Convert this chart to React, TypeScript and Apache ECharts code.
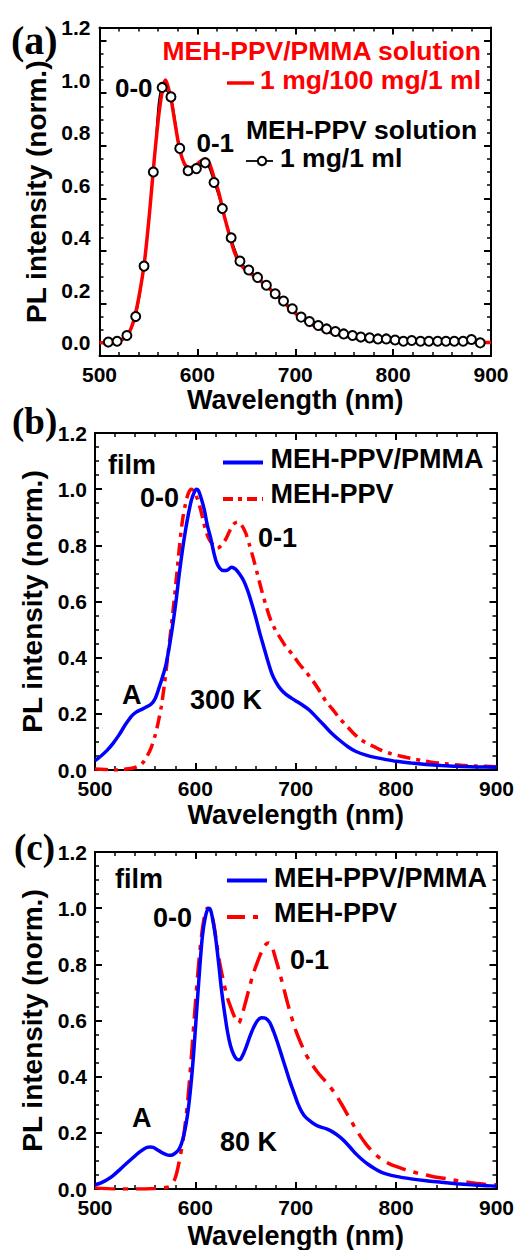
import React, { useEffect, useRef } from "react";
import * as echarts from "echarts";

// ---------------- data ----------------
// (a) MEH-PPV/PMMA solution (red solid)
const aPmmaX = [500, 510, 518, 525, 531, 536, 541, 546, 551, 556, 561, 565, 567.5, 570, 573, 577, 582, 587, 592, 598, 603, 608, 612, 617, 622, 627, 632, 637, 642, 648, 655, 662, 670, 680, 690, 700, 710, 720, 730, 740, 755, 770, 790, 810, 840, 870, 900];
const aPmmaY = [0.0, 0.002, 0.006, 0.016, 0.045, 0.10, 0.19, 0.31, 0.49, 0.70, 0.88, 0.975, 1.0, 0.975, 0.93, 0.84, 0.735, 0.68, 0.665, 0.675, 0.69, 0.70, 0.685, 0.63, 0.57, 0.49, 0.42, 0.355, 0.31, 0.282, 0.262, 0.243, 0.218, 0.185, 0.148, 0.112, 0.085, 0.063, 0.047, 0.035, 0.023, 0.015, 0.009, 0.005, 0.003, 0.002, 0.001];
// (a) MEH-PPV solution (black open circles)
const aSolX = [509, 518, 528, 537, 545.5, 555, 564, 573, 582, 590.5, 599, 608, 617, 625.5, 634.5, 643.5, 652.5, 661.5, 670.5, 679.5, 688, 697, 706, 714.5, 723.5, 732, 741, 749.5, 758.5, 767, 776, 784.5, 793, 802, 810.5, 819, 828, 836.5, 845.5, 854, 862.5, 871.5, 880, 889];
const aSolY = [0.003, 0.006, 0.028, 0.10, 0.292, 0.65, 0.972, 0.936, 0.74, 0.655, 0.663, 0.685, 0.61, 0.511, 0.40, 0.311, 0.277, 0.249, 0.219, 0.187, 0.159, 0.13, 0.098, 0.081, 0.066, 0.053, 0.043, 0.034, 0.028, 0.022, 0.019, 0.015, 0.015, 0.011, 0.006, 0.009, 0.006, 0.006, 0.006, 0.006, 0.006, 0.006, 0.013, 0.0];

// (b) film 300 K
const bPmmaX = [500, 506, 512, 518, 524, 530, 536, 541, 546, 551, 556, 560, 564, 568, 571, 575, 578, 581, 584, 587, 590, 593, 596, 599, 601, 603, 606, 609, 612, 615, 618, 621, 624, 628, 632, 636, 640, 644, 648, 652, 656, 660, 664, 668, 672, 676, 680, 685, 690, 696, 702, 708, 714, 720, 728, 736, 744, 752, 760, 770, 780, 790, 800, 815, 830, 845, 860, 880, 900];
const bPmmaY = [0.033, 0.05, 0.07, 0.095, 0.125, 0.16, 0.19, 0.206, 0.215, 0.224, 0.235, 0.255, 0.295, 0.34, 0.38, 0.46, 0.53, 0.61, 0.70, 0.78, 0.85, 0.91, 0.96, 0.99, 1.0, 0.995, 0.965, 0.925, 0.87, 0.83, 0.78, 0.74, 0.72, 0.71, 0.712, 0.722, 0.715, 0.698, 0.675, 0.64, 0.595, 0.545, 0.49, 0.44, 0.39, 0.345, 0.315, 0.288, 0.27, 0.255, 0.242, 0.228, 0.212, 0.19, 0.16, 0.13, 0.105, 0.083, 0.066, 0.053, 0.044, 0.037, 0.031, 0.025, 0.02, 0.016, 0.013, 0.011, 0.01];
const bNeatX = [500, 510, 520, 530, 538, 544, 548, 552, 556, 560, 563, 566, 569, 572, 575, 578, 581, 584, 587, 590, 593, 596, 599, 602, 605, 608, 611, 614, 618, 622, 626, 630, 634, 638, 642, 646, 650, 654, 658, 662, 666, 670, 675, 680, 685, 690, 697, 703, 710, 717, 724, 730, 737, 743, 750, 757, 764, 770, 778, 786, 795, 805, 815, 825, 835, 850, 865, 880, 900];
const bNeatY = [0.004, 0.002, 0.0, 0.003, 0.007, 0.015, 0.027, 0.05, 0.08, 0.125, 0.17, 0.225, 0.30, 0.39, 0.48, 0.575, 0.68, 0.79, 0.885, 0.945, 0.985, 1.0, 0.99, 0.965, 0.93, 0.885, 0.845, 0.82, 0.80, 0.79, 0.80, 0.82, 0.85, 0.875, 0.883, 0.872, 0.845, 0.80, 0.75, 0.695, 0.64, 0.59, 0.535, 0.497, 0.468, 0.44, 0.41, 0.38, 0.35, 0.318, 0.28, 0.245, 0.215, 0.187, 0.16, 0.133, 0.11, 0.097, 0.083, 0.069, 0.058, 0.049, 0.041, 0.034, 0.028, 0.022, 0.017, 0.014, 0.012];

// (c) film 80 K
const cPmmaX = [500, 506, 512, 518, 525, 531, 538, 543, 548, 552, 555, 558, 562, 566, 570, 574, 577, 580, 583, 586, 589, 592, 595, 598, 601, 604, 607, 610, 613, 615, 617, 620, 623, 626, 629, 632, 635, 638, 641, 644, 647, 650, 654, 658, 662, 666, 670, 674, 678, 682, 686, 690, 694, 698, 702, 706, 710, 715, 720, 725, 730, 735, 740, 745, 750, 755, 760, 766, 772, 778, 784, 790, 800, 815, 830, 845, 860, 875, 890, 900];
const cPmmaY = [0.015, 0.022, 0.033, 0.048, 0.07, 0.09, 0.112, 0.128, 0.141, 0.148, 0.15, 0.148, 0.14, 0.131, 0.124, 0.12, 0.121, 0.128, 0.138, 0.16, 0.2, 0.26, 0.35, 0.47, 0.62, 0.77, 0.9, 0.97, 1.0, 0.995, 0.965, 0.9, 0.81, 0.71, 0.63, 0.56, 0.51, 0.48, 0.463, 0.46, 0.475, 0.5, 0.54, 0.575, 0.6, 0.61, 0.608, 0.593, 0.56, 0.52, 0.475, 0.43, 0.385, 0.345, 0.305, 0.275, 0.255, 0.24, 0.228, 0.22, 0.215, 0.207, 0.196, 0.182, 0.165, 0.145, 0.125, 0.105, 0.088, 0.074, 0.062, 0.054, 0.045, 0.036, 0.029, 0.024, 0.019, 0.015, 0.012, 0.01];
const cNeatX = [500, 520, 540, 560, 570, 575, 580, 584, 588, 592, 596, 600, 604, 608, 612, 615, 618, 621, 624, 628, 632, 636, 640, 643, 646, 650, 654, 658, 662, 666, 670, 673, 676, 680, 684, 688, 692, 696, 700, 705, 710, 716, 722, 728, 734, 740, 746, 752, 758, 764, 770, 776, 782, 788, 795, 802, 810, 820, 830, 840, 850, 860, 870, 880, 890, 900];
const cNeatY = [0.004, 0.0, 0.0, 0.002, 0.005, 0.01, 0.04, 0.1, 0.18, 0.3, 0.47, 0.66, 0.83, 0.95, 1.0, 0.99, 0.95, 0.88, 0.81, 0.74, 0.68, 0.64, 0.605, 0.59, 0.615, 0.665, 0.72, 0.77, 0.81, 0.845, 0.87, 0.876, 0.865, 0.82, 0.77, 0.715, 0.66, 0.61, 0.565, 0.52, 0.48, 0.445, 0.415, 0.39, 0.365, 0.335, 0.3, 0.262, 0.225, 0.19, 0.16, 0.135, 0.115, 0.1, 0.087, 0.078, 0.068, 0.058, 0.05, 0.042, 0.037, 0.03, 0.025, 0.02, 0.016, 0.015];

const xRange = [500, 900];
const yMaxAll = 1.2;
const yMinA = -0.05;
const yMinBC = 0;

// ---------------- styles ----------------
const SANS = "'Liberation Sans', Arial, Helvetica, sans-serif";
const SERIF = "'Liberation Serif', 'Times New Roman', serif";
const RED = "#ff0000";
const BLUE = "#0000ff";
const BLACK = "#000000";

const zip = (xs: number[], ys: number[]) => xs.map((x, i) => [x, ys[i]]);

function xAxes(g: number, nameGap: number) {
  const base: any = {
    gridIndex: g,
    type: "value",
    min: xRange[0],
    max: xRange[1],
    interval: 100,
    axisLine: { show: true, onZero: false, lineStyle: { color: BLACK, width: 2 } },
    axisTick: { show: true, inside: true, length: 7, lineStyle: { color: BLACK, width: 2 } },
    minorTick: { show: true, splitNumber: 5, length: 4, lineStyle: { color: BLACK, width: 1.5 } },
    splitLine: { show: false },
    minorSplitLine: { show: false },
  };
  return [
    {
      ...base,
      position: "bottom",
      axisLabel: { show: true, fontSize: 21, fontWeight: "bold", color: BLACK, fontFamily: SANS, margin: 8, showMinLabel: true, showMaxLabel: true },
      name: "Wavelength (nm)",
      nameLocation: "middle",
      nameGap,
      nameTextStyle: { fontSize: 27, fontWeight: "bold", color: BLACK, fontFamily: SANS },
    },
    { ...base, position: "top", axisLabel: { show: false } },
  ];
}

const yFmt = (v: number) => {
  const r = Math.round(v * 100);
  return r >= 0 && r % 20 === 0 ? (r / 100).toFixed(1) : "";
};

function yAxes(g: number, min: number, nameGap: number, labelMargin: number) {
  const minor: any = {
    gridIndex: g,
    type: "value",
    min,
    max: yMaxAll,
    interval: 0.05,
    axisLine: { show: true, onZero: false, lineStyle: { color: BLACK, width: 2 } },
    axisTick: { show: true, inside: true, length: 4, lineStyle: { color: BLACK, width: 1.5 } },
    splitLine: { show: false },
  };
  const major: any = {
    gridIndex: g,
    type: "value",
    min,
    max: yMaxAll,
    interval: 0.2,
    axisLine: { show: false, onZero: false },
    axisTick: { show: true, inside: true, length: 7, lineStyle: { color: BLACK, width: 2 } },
    axisLabel: { show: false },
    splitLine: { show: false },
  };
  return [
    {
      ...minor,
      position: "left",
      axisLabel: { show: true, formatter: yFmt, fontSize: 21, fontWeight: "bold", color: BLACK, fontFamily: SANS, margin: labelMargin, showMinLabel: true, showMaxLabel: true },
      name: "PL intensity (norm.)",
      nameLocation: "middle",
      nameGap,
      nameTextStyle: { fontSize: 28, fontWeight: "bold", color: BLACK, fontFamily: SANS },
    },
    { ...major, position: "left" },
    { ...minor, position: "right", axisLabel: { show: false } },
    { ...major, position: "right" },
  ];
}

function txt(text: string, x: number, y: number, o: any = {}) {
  return {
    type: "text",
    x,
    y,
    z: 20,
    style: {
      text,
      fill: o.color || BLACK,
      fontSize: o.size || 27,
      fontWeight: "bold",
      fontFamily: o.family || SANS,
      align: o.align || "left",
      verticalAlign: "middle",
    },
  };
}

function seg(x1: number, x2: number, y: number, color: string, width: number, dash?: number[]) {
  return {
    type: "line",
    z: 20,
    shape: { x1, y1: y, x2, y2: y },
    style: { stroke: color, lineWidth: width, lineDash: dash || null },
  };
}

const DASH_B = [13, 6, 4, 6];
const DASH_C = [20, 8, 5, 8];

export default function App() {
  const ref = useRef<HTMLDivElement>(null);
  useEffect(() => {
    if (!ref.current) return;
    const chart = echarts.init(ref.current, undefined, { renderer: "svg" });
    const option: any = {
      animation: false,
      backgroundColor: "#ffffff",
      grid: [
        { left: 99.5, top: 27.5, width: 391.5, height: 328.5 },
        { left: 95, top: 433, width: 403, height: 337 },
        { left: 95, top: 852, width: 405, height: 337.5 },
      ],
      xAxis: [...xAxes(0, 30), ...xAxes(1, 31), ...xAxes(2, 33)],
      yAxis: [...yAxes(0, yMinA, 38, 9), ...yAxes(1, yMinBC, 40, 8), ...yAxes(2, yMinBC, 40, 8)],
      series: [
        {
          name: "MEH-PPV solution",
          type: "line",
          xAxisIndex: 0,
          yAxisIndex: 0,
          data: zip(aSolX, aSolY),
          smooth: 0.3,
          symbol: "circle",
          symbolSize: 9,
          showSymbol: true,
          lineStyle: { color: BLACK, width: 1.5 },
          itemStyle: { color: "#ffffff", borderColor: BLACK, borderWidth: 2 },
        },
        {
          name: "MEH-PPV/PMMA solution",
          type: "line",
          xAxisIndex: 0,
          yAxisIndex: 0,
          data: zip(aPmmaX, aPmmaY),
          smooth: 0.3,
          symbol: "none",
          lineStyle: { color: RED, width: 3.5 },
        },
        {
          name: "MEH-PPV (300 K)",
          type: "line",
          xAxisIndex: 2,
          yAxisIndex: 4,
          data: zip(bNeatX, bNeatY),
          smooth: 0.3,
          symbol: "none",
          lineStyle: { color: RED, width: 3.5, type: DASH_B },
        },
        {
          name: "MEH-PPV/PMMA (300 K)",
          type: "line",
          xAxisIndex: 2,
          yAxisIndex: 4,
          data: zip(bPmmaX, bPmmaY),
          smooth: 0.3,
          symbol: "none",
          lineStyle: { color: BLUE, width: 3.5 },
        },
        {
          name: "MEH-PPV (80 K)",
          type: "line",
          xAxisIndex: 4,
          yAxisIndex: 8,
          data: zip(cNeatX, cNeatY),
          smooth: 0.3,
          symbol: "none",
          lineStyle: { color: RED, width: 3.5, type: DASH_C },
        },
        {
          name: "MEH-PPV/PMMA (80 K)",
          type: "line",
          xAxisIndex: 4,
          yAxisIndex: 8,
          data: zip(cPmmaX, cPmmaY),
          smooth: 0.3,
          symbol: "none",
          lineStyle: { color: BLUE, width: 3.5 },
        },
      ],
      graphic: [
        // panel (a)
        txt("(a)", 11, 40, { family: SERIF, size: 40 }),
        txt("MEH-PPV/PMMA solution", 481, 50.5, { color: RED, size: 26.5, align: "right" }),
        seg(227, 254, 83, RED, 3.5),
        txt("1 mg/100 mg/1 ml", 481, 80, { color: RED, size: 26.5, align: "right" }),
        txt("MEH-PPV solution", 246, 130, { size: 26.5 }),
        seg(246, 273, 161, BLACK, 1.8),
        { type: "circle", z: 21, shape: { cx: 262, cy: 161, r: 4.2 }, style: { fill: "#ffffff", stroke: BLACK, lineWidth: 2 } },
        txt("1 mg/1 ml", 280, 158, { size: 26.5 }),
        txt("0-0", 115, 88, { size: 26 }),
        txt("0-1", 196.5, 143, { size: 26 }),
        // panel (b)
        txt("(b)", 12, 421, { family: SERIF, size: 37 }),
        txt("film", 108, 465),
        seg(223, 263, 462.5, BLUE, 4),
        txt("MEH-PPV/PMMA", 270.5, 458.5),
        seg(223, 263, 499, RED, 4, [10, 5, 4, 5]),
        txt("MEH-PPV", 270.5, 493.5),
        txt("0-0", 140, 498),
        txt("0-1", 258, 538),
        txt("A", 122, 695),
        txt("300 K", 190, 700),
        // panel (c)
        txt("(c)", 14, 847, { family: SERIF, size: 37 }),
        txt("film", 115, 879),
        seg(227, 267, 880.5, BLUE, 4),
        txt("MEH-PPV/PMMA", 274, 878),
        seg(227, 266, 917, RED, 4, [18, 8, 5, 8]),
        txt("MEH-PPV", 274, 913),
        txt("0-0", 153, 918),
        txt("0-1", 290, 960),
        txt("A", 132, 1118),
        txt("80 K", 220, 1142),
      ],
    };
    chart.setOption(option);
    return () => chart.dispose();
  }, []);
  return (
    <div
      ref={ref}
      style={{ position: "absolute", left: 0, top: 0, width: 517, height: 1250, background: "#fff" }}
    />
  );
}
